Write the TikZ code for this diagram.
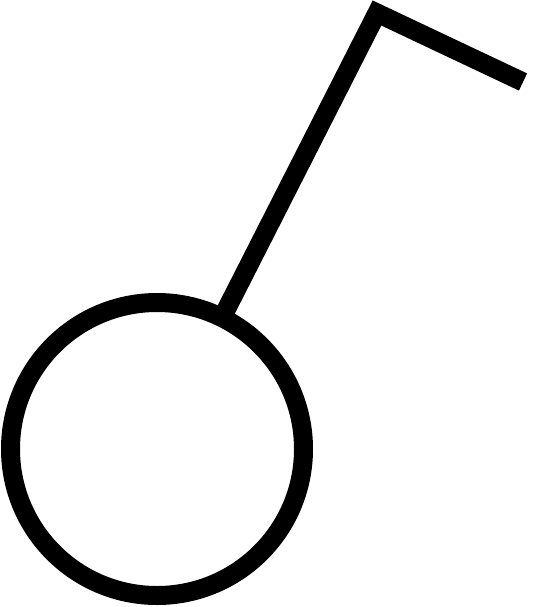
\documentclass[tikz,border=0pt]{standalone}
\begin{document}
\begin{tikzpicture}[x=1pt,y=-1pt,stroke/.style={draw=black,line width=19pt}]
\useasboundingbox (0,0) rectangle (534,607);
\coordinate (c) at (157,449);
\coordinate (a) at (225,312);
\coordinate (b) at (377,13);
\coordinate (e) at (523,82);
\node[stroke,circle,minimum size=293pt,inner sep=0pt] (ring) at (c) {};
\draw[stroke,line join=miter] (a) -- (b) -- (e);
\end{tikzpicture}
\end{document}
